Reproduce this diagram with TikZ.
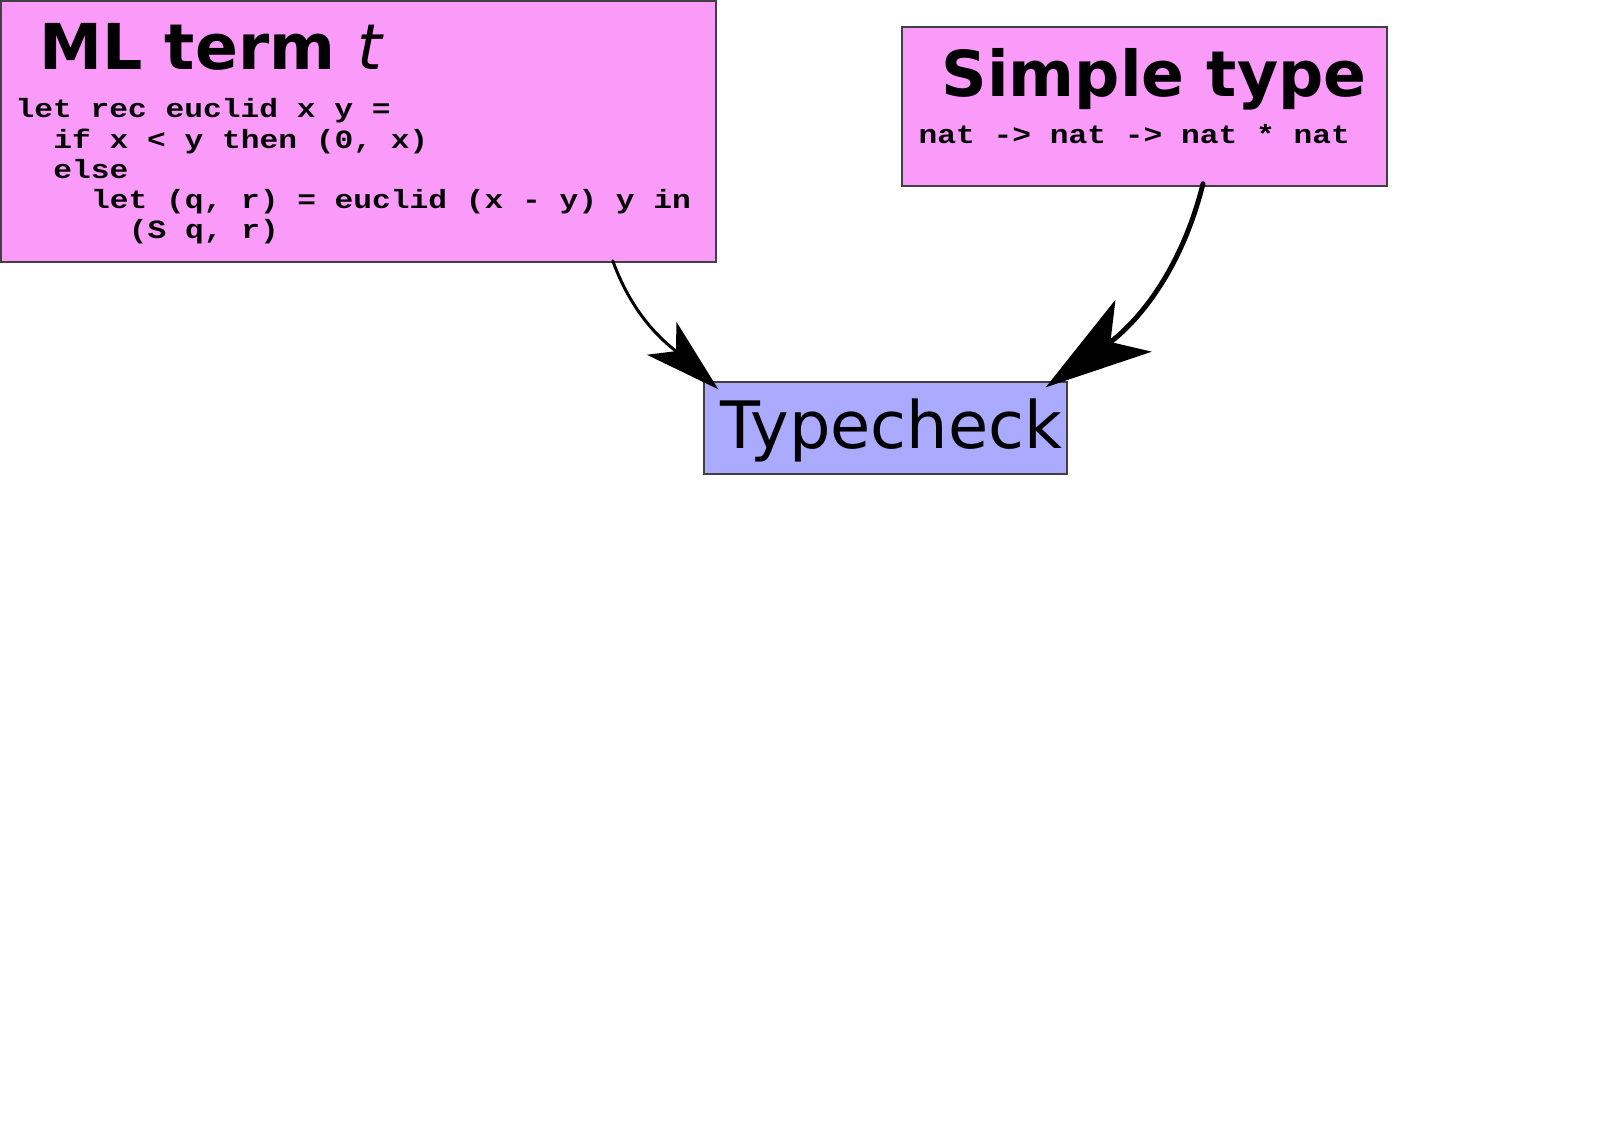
\documentclass[tikz,border=0pt]{standalone}
\usepackage{fontspec}
\setmainfont{DejaVu Sans}
\newfontfamily\codefont{Liberation Mono}[FakeStretch=1.185]
\usetikzlibrary{arrows.meta}
\definecolor{termpink}{HTML}{FA9BFA}
\definecolor{checkblue}{HTML}{AAAAFF}

\begin{document}
\begin{tikzpicture}[
  box/.style={draw=black!75, line width=0.4pt, inner sep=0pt},
  termbox/.style={box, fill=termpink},
  checkbox/.style={box, fill=checkblue},
  heading/.style={anchor=base west, inner sep=0pt, font=\fontsize{18}{18}\selectfont\bfseries},
  mlcode/.style={anchor=base west, inner sep=0pt, font=\fontsize{7.5}{7.5}\selectfont\codefont\bfseries},
  flow/.style={-{Stealth[length=0.76cm, width=0.44cm, inset=0.19cm]}, line width=0.85pt, line cap=round}]
\useasboundingbox (0,0) rectangle (16.2,-11.29);
\node[termbox, minimum width=7.15cm, minimum height=2.61cm] (ml) at (3.585,-1.315) {};
\node[heading] at (0.39,-0.70) {ML term {\normalfont\itshape t}};
\foreach \ind/\txt [count=\i from 0] in {0/{let rec euclid x y =}, 2/{if x < y then (0, x)},
    2/{else}, 4/{let (q, r) = euclid (x - y) y in}, 6/{(S q, r)}}
  \node[mlcode] at (0.15+0.1885*\ind,-1.18-0.302*\i) {\txt};
\node[termbox, minimum width=4.85cm, minimum height=1.59cm] (ty) at (11.445,-1.065) {};
\node[heading] at (9.41,-0.97) {Simple type};
\node[mlcode] at (9.18,-1.44) {nat -> nat -> nat * nat};
\node[checkbox, minimum width=3.63cm, minimum height=0.92cm] (tc) at (8.855,-4.28) {};
\node[anchor=base west, inner sep=0pt, font=\fontsize{18.6}{18.6}\selectfont] at (7.2,-4.48) {Typecheck};
\draw[flow] ([xshift=-1.04cm,yshift=0.02cm]ml.south east) to[out=-70,in=138]
  ([xshift=0.15cm,yshift=-0.08cm]tc.north west);
\draw[flow, line width=1.4pt, -{Stealth[length=1.07cm, width=0.63cm, inset=0.28cm]}]
  ([xshift=0.585cm,yshift=0.03cm]ty.south) to[out=-104,in=35]
  ([xshift=-0.22cm,yshift=-0.06cm]tc.north east);
\end{tikzpicture}
\end{document}
